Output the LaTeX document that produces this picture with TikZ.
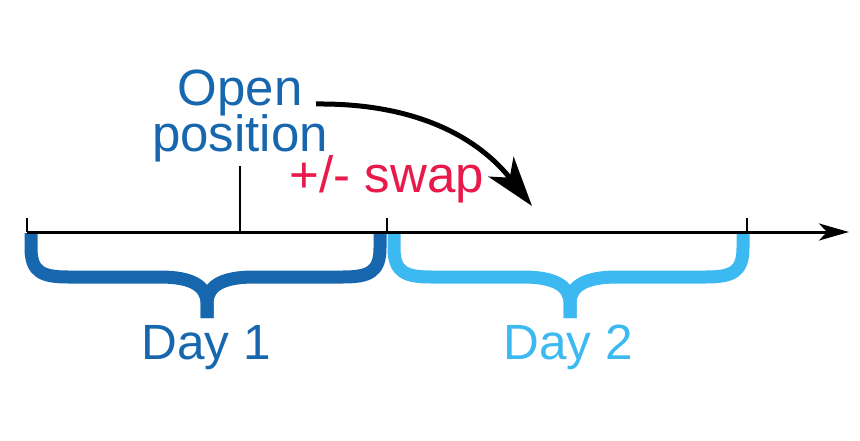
\documentclass[tikz,border=0pt]{standalone}
\usepackage{fontspec}
\setmainfont{Liberation Sans}
\usetikzlibrary{arrows.meta}
\definecolor{dblue}{HTML}{1767AE}
\definecolor{lblue}{HTML}{3DB9F1}
\definecolor{swapred}{HTML}{E81A4B}
\tikzset{
  lbl/.style={font=\fontsize{51}{51}\selectfont, inner sep=0pt, anchor=base},
  daylbl/.style={font=\fontsize{49.5}{49.5}\selectfont, inner sep=0pt, anchor=base},
  axisline/.style={line width=3pt, black},
  tickmark/.style={line width=2.5pt, black},
  bracestroke/.style={line width=13pt, line cap=butt, line join=round},
}
\begin{document}
\begin{tikzpicture}[x=1pt,y=-1pt]
\useasboundingbox (0,0) rectangle (860,441);
% braces
\draw[bracestroke, dblue] (31,233) -- (31,248) .. controls (31,272) and (42,277) .. (68,277) -- (160,277) .. controls (192,277) and (206,286) .. (207,302) -- (207,318);
\draw[bracestroke, dblue] (380,233) -- (380,248) .. controls (380,272) and (369,277) .. (343,277) -- (254,277) .. controls (222,277) and (208,286) .. (207,302) -- (207,318);
\draw[bracestroke, lblue] (394,233) -- (394,248) .. controls (394,272) and (405,277) .. (431,277) -- (523,277) .. controls (555,277) and (569,286) .. (570,302) -- (570,318);
\draw[bracestroke, lblue] (743,233) -- (743,248) .. controls (743,272) and (732,277) .. (706,277) -- (617,277) .. controls (585,277) and (571,286) .. (570,302) -- (570,318);
% axis
\coordinate (axstart) at (27,232);
\coordinate (axend) at (849,232);
\coordinate (t1) at (27,218);
\coordinate (t2a) at (387,232);
\coordinate (t2) at (387,218);
\coordinate (t3a) at (747,232);
\coordinate (t3) at (747,218);
\coordinate (opa) at (240,232);
\coordinate (opt) at (240,166);
\draw[axisline, -{Stealth[length=30pt,width=17pt,inset=8pt]}] (axstart) -- (axend);
\draw[tickmark] (axstart) -- (t1);
\draw[tickmark] (t2a) -- (t2);
\draw[tickmark] (t3a) -- (t3);
\draw[tickmark] (opa) -- (opt);
% labels
\node[lbl, text=dblue] (open1) at (240,106) {Open};
\node[lbl, text=dblue] (open2) at (240,152) {position};
\node[lbl, text=swapred] (swap) at (387,193) {+/- swap};
\node[daylbl, text=dblue] (day1) at (206,359) {Day 1};
\node[daylbl, text=lblue] (day2) at (568,359) {Day 2};
% curved arrow
\coordinate (arrstart) at (316,104);
\coordinate (arrend) at (532,206);
\draw[line width=5pt, -{Stealth[length=50pt,width=32pt,inset=14pt]}] (arrstart) .. controls (420,103) and (480,140) .. (arrend);
\end{tikzpicture}
\end{document}
